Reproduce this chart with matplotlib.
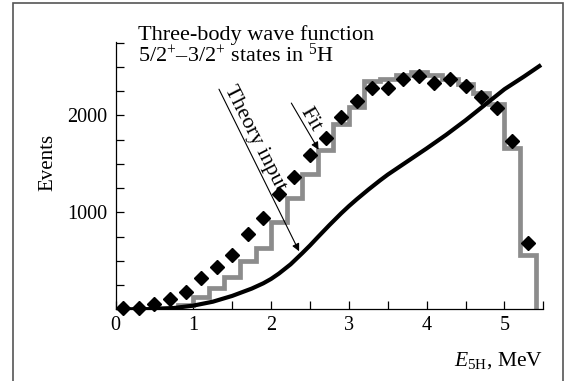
import numpy as np
import matplotlib
matplotlib.use("Agg")
import matplotlib.pyplot as plt
from matplotlib.patches import Rectangle
from matplotlib.ticker import MultipleLocator, FixedLocator

plt.rcParams['font.family'] = ['Liberation Serif', 'DejaVu Serif']
plt.rcParams['mathtext.fontset'] = 'custom'
plt.rcParams['mathtext.rm'] = 'Liberation Serif'
plt.rcParams['mathtext.it'] = 'Liberation Serif:italic'

# experimental points (bin centres, 0.2 MeV bins)
e_data = [0.1, 0.3, 0.5, 0.7, 0.9, 1.1, 1.3, 1.5, 1.7, 1.9, 2.1, 2.3, 2.5, 2.7,
          2.9, 3.1, 3.3, 3.5, 3.7, 3.9, 4.1, 4.3, 4.5, 4.7, 4.9, 5.1, 5.3]
n_data = [15, 20, 55, 105, 180, 322, 433, 562, 773, 940, 1187, 1366, 1597, 1762,
          1986, 2147, 2285, 2285, 2380, 2410, 2338, 2378, 2302, 2188, 2075, 1738, 685]

# fit histogram
fit_edges = [0.0, 0.2, 0.4, 0.6, 0.8, 1.0, 1.2, 1.4, 1.6, 1.8, 2.0, 2.2, 2.4, 2.6,
             2.8, 3.0, 3.2, 3.4, 3.6, 3.8, 4.0, 4.2, 4.4, 4.6, 4.8, 5.0, 5.2, 5.4]
fit_vals = [5, 5, 10, 20, 50, 130, 225, 330, 500, 635, 900, 1145, 1395, 1645,
            1910, 2090, 2350, 2380, 2420, 2445, 2420, 2380, 2320, 2230, 2120, 1665, 565]

# theory input curve
e_th = [0.0, 0.25, 0.5, 0.75, 1.0, 1.25, 1.5, 1.75, 1.9, 2.0, 2.1, 2.25, 2.4,
        2.5, 2.6, 2.75, 2.9, 3.0, 3.1, 3.25, 3.4, 3.5, 3.75, 4.0, 4.25, 4.5,
        4.75, 5.0, 5.25, 5.47]
n_th = [0, 1, 4, 15, 40, 80, 140, 215, 270, 315, 370, 465, 580, 660, 745, 870,
        990, 1065, 1135, 1235, 1330, 1390, 1525, 1660, 1800, 1950, 2110, 2270,
        2400, 2520]

fig = plt.figure(figsize=(5.69, 3.81), dpi=100)
ax = fig.add_axes([0.203, 0.1877, 0.752, 0.703])

ax.stairs(fit_vals, fit_edges, color='#8c8c8c', lw=3.4, baseline=0, zorder=2)
ax.plot(e_th, n_th, color='black', lw=3.0, zorder=3, solid_capstyle='butt',
        solid_joinstyle='round')
ax.plot(e_data, n_data, 'D', color='black', ms=7, zorder=4, clip_on=False)

ax.set_xlim(0, 5.5)
ax.set_ylim(0, 2760)

for s in ['top', 'right']:
    ax.spines[s].set_visible(False)
for s in ['left', 'bottom']:
    ax.spines[s].set_linewidth(0.9)

ax.xaxis.set_major_locator(MultipleLocator(1))
ax.xaxis.set_minor_locator(MultipleLocator(0.5))
ax.yaxis.set_major_locator(FixedLocator([1000, 2000]))
ax.yaxis.set_minor_locator(MultipleLocator(250))
ax.tick_params(which='both', direction='in', length=6, width=0.9, labelsize=14.5)
ax.tick_params(axis='x', pad=5)
ax.tick_params(axis='y', pad=6)

ax.set_ylabel('Events', fontsize=15)
ax.yaxis.set_label_coords(-0.135, 0.55)
ax.text(1.0, -0.15, r'$E_{5\mathrm{H}}$, MeV', transform=ax.transAxes,
        ha='right', va='top', fontsize=15.5)

fig.text(138 / 569, 1 - 40 / 381, 'Three-body wave function', fontsize=16,
         ha='left', va='baseline')
fig.text(138 / 569, 1 - 62 / 381, r'5/2$^{+}$–3/2$^{+}$ states in $^{5}$H',
         fontsize=16, ha='left', va='baseline')

arrow = dict(arrowstyle='-|>', color='black', lw=0.8, mutation_scale=11,
             shrinkA=0, shrinkB=0)
ax.annotate('', xy=(2.36, 600), xytext=(1.33, 2270), arrowprops=arrow)
ax.annotate('', xy=(2.61, 1647), xytext=(2.26, 2127), arrowprops=arrow)
ax.text(1.79, 1760, 'Theory input', rotation=-63, ha='center', va='center',
        fontsize=16, rotation_mode='anchor')
ax.text(2.5, 1955, 'Fit', rotation=-60, ha='center', va='center',
        fontsize=16, rotation_mode='anchor')

frame = Rectangle((13 / 569, -0.05), (563 - 13) / 569, 1 - 2.5 / 381 + 0.05,
                  transform=fig.transFigure, fill=False, ec='#555555', lw=1.2)
fig.add_artist(frame)

fig.savefig('out.png', dpi=100)
